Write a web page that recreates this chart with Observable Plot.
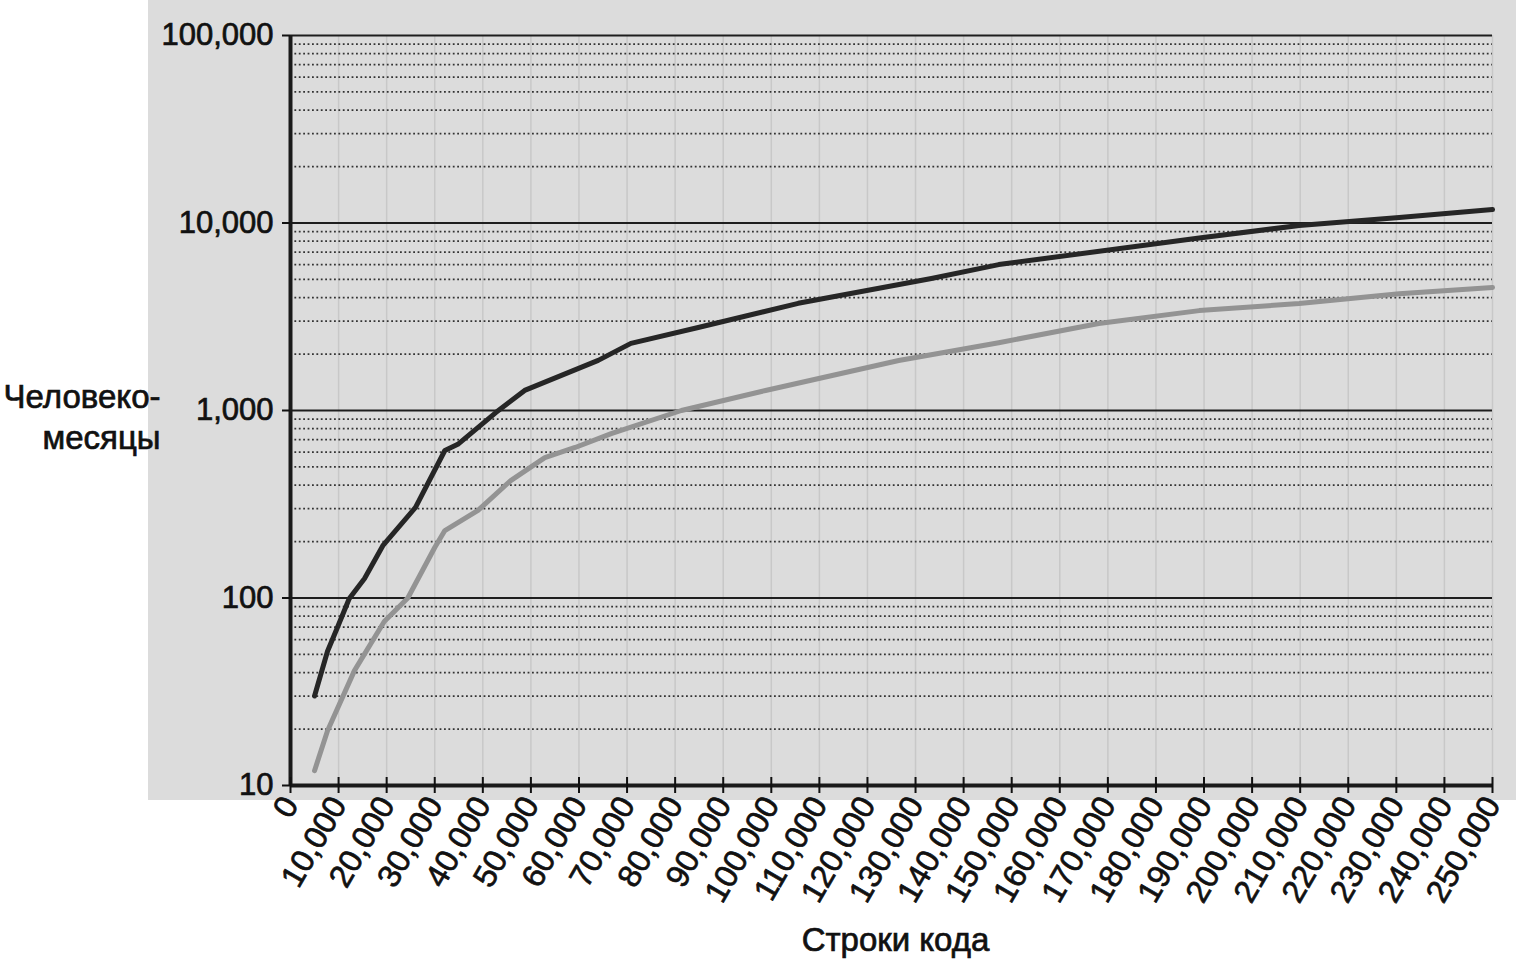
<!DOCTYPE html>
<html><head><meta charset="utf-8">
<script src="https://cdn.jsdelivr.net/npm/d3@7"></script>
<script src="https://cdn.jsdelivr.net/npm/@observablehq/plot@0.6"></script>
<style>
body{margin:0;background:#fff;}
#wrap{position:relative;width:1516px;height:968px;overflow:hidden;}
#bg{position:absolute;left:148px;top:0;width:1368px;height:800px;background:#dcdcdc;}
#chart{position:absolute;left:0;top:0;}
svg{font-family:"Liberation Sans",Arial,sans-serif;}
svg text{stroke:#111;stroke-width:0.7px;}
</style></head><body>
<div id="wrap"><div id="bg"></div><div id="chart"></div></div>
<script>
// Tick values
const xTicks = [0,10000,20000,30000,40000,50000,60000,70000,80000,90000,100000,110000,120000,130000,140000,150000,160000,170000,180000,190000,200000,210000,220000,230000,240000,250000];
const yTicks = [10,100,1000,10000,100000];
const yMinor = [20,30,40,50,60,70,80,90,200,300,400,500,600,700,800,900,2000,3000,4000,5000,6000,7000,8000,9000,20000,30000,40000,50000,60000,70000,80000,90000];

// Dark series (lines of code -> person-months)
const darkX = [5000,7700,9800,12200,15400,19200,26000,32100,34800,42700,48700,64000,70800,84800,105600,133300,147300,189000,209800,230600,250000];
const darkY = [30,52,70,99,127,190,304,612,660,975,1280,1850,2280,2770,3730,5060,6000,8320,9700,10700,11800];

// Gray series
const grayX = [5000,7700,13300,19500,24400,30000,32100,39000,45800,52900,59200,66700,81300,98800,126500,147300,168100,189000,209800,230600,250000];
const grayY = [12,19.6,41,75,100,186,229,293,423,561,635,753,1000,1279,1848,2300,2910,3410,3720,4200,4530];

const xLabel = "Строки кода";
const yLabel = "Человеко-\nмесяцы";

const dark = darkX.map((x, i) => ({x, y: darkY[i]}));
const gray = grayX.map((x, i) => ({x, y: grayY[i]}));

const plot = Plot.plot({
  width: 1516, height: 968,
  marginLeft: 290, marginRight: 24, marginTop: 35, marginBottom: 183,
  style: {background: "transparent", fontSize: "31px", fontFamily: "'Liberation Sans', Arial, sans-serif", color: "#111"},
  x: {domain: [0, 250000]},
  y: {type: "log", domain: [10, 100000]},
  marks: [
    Plot.ruleX(xTicks.slice(1), {stroke: "#c8c8c8", strokeWidth: 1.5}),
    Plot.ruleY(yMinor, {stroke: "#333", strokeWidth: 1.8, strokeDasharray: "1.8,2.6"}),
    Plot.ruleY(yTicks.slice(1), {stroke: "#1e1e1e", strokeWidth: 2.2}),
    Plot.line(gray, {x: "x", y: "y", stroke: "#939393", strokeWidth: 5}),
    Plot.line(dark, {x: "x", y: "y", stroke: "#262626", strokeWidth: 5}),
    Plot.ruleX([0], {stroke: "#1a1a1a", strokeWidth: 4}),
    Plot.ruleY([10], {stroke: "#1a1a1a", strokeWidth: 4}),
    Plot.axisY({ticks: yTicks, tickFormat: d3.format(","), tickSize: 8, tickPadding: 9, label: null, strokeWidth: 2, fontSize: 31}),
    Plot.axisX({ticks: xTicks, tickFormat: d3.format(","), tickRotate: -60, tickSize: 8, tickPadding: 6, label: null, strokeWidth: 2, fontSize: 32}),
    Plot.axisX({ticks: xTicks, tickFormat: () => "", tickSize: 8, dy: -8, label: null, strokeWidth: 2}),
    Plot.text([yLabel], {frameAnchor: "left", dx: -130, textAnchor: "end", lineHeight: 1.25, dy: 5, fontSize: 33}),
    Plot.text([xLabel], {frameAnchor: "bottom", dy: 165, dx: 4, fontSize: 33})
  ]
});
document.getElementById("chart").appendChild(plot);
</script>
</body></html>
